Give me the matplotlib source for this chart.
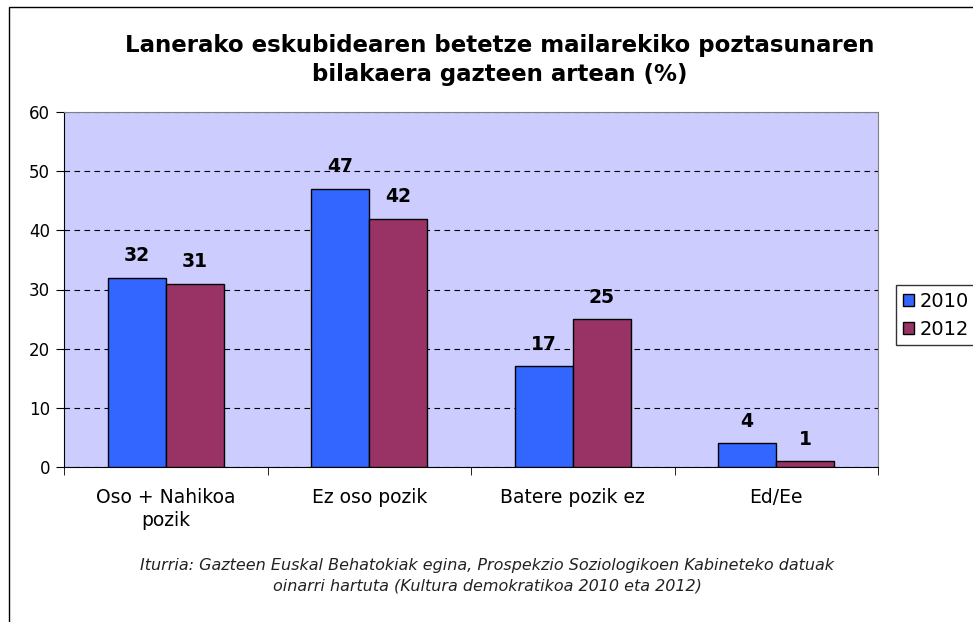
import matplotlib.pyplot as plt
import numpy as np

categories = ["Oso + Nahikoa\npozik", "Ez oso pozik", "Batere pozik ez", "Ed/Ee"]
years = ["2010", "2012"]
values_2010 = [32, 47, 17, 4]
values_2012 = [31, 42, 25, 1]
colors = ["#3366FF", "#993366"]

title = "Lanerako eskubidearen betetze mailarekiko poztasunaren\nbilakaera gazteen artean (%)"
source = ("Iturria: Gazteen Euskal Behatokiak egina, Prospekzio Soziologikoen Kabineteko datuak\n"
          "oinarri hartuta (Kultura demokratikoa 2010 eta 2012)")

fig = plt.figure(figsize=(9.73, 6.22), dpi=100)
W, H = 973, 622
# plot area in pixels: x 64..878, y 112..467
ax = fig.add_axes([64 / W, 1 - 467 / H, (878 - 64) / W, (467 - 112) / H])
ax.set_facecolor("#CCCCFF")

x = np.arange(len(categories))
w = 1 / 3.5
b1 = ax.bar(x - w / 2, values_2010, w, color=colors[0], edgecolor="black", linewidth=1, label=years[0], zorder=3)
b2 = ax.bar(x + w / 2, values_2012, w, color=colors[1], edgecolor="black", linewidth=1, label=years[1], zorder=3)

for bars in (b1, b2):
    for r in bars:
        ax.annotate(f"{r.get_height():g}", (r.get_x() + r.get_width() / 2, r.get_height()),
                    xytext=(0, 9), textcoords="offset points", ha="center", va="bottom",
                    fontsize=13.5, fontweight="bold")

ax.set_xlim(-0.5, len(categories) - 0.5)
ax.set_ylim(0, 60)
ax.set_yticks(range(0, 61, 10))
ax.yaxis.grid(True, linestyle=(0, (5, 4)), color="black", linewidth=0.8, zorder=1)
ax.set_xticks(x)
ax.set_xticklabels(categories, fontsize=13.5, linespacing=1.3)
ax.set_xticks(np.arange(len(categories) + 1) - 0.5, minor=True)
ax.tick_params(axis="x", which="major", length=0, pad=15)
ax.tick_params(axis="x", which="minor", length=6, direction="out", color="black")
ax.tick_params(axis="y", length=6, direction="out", labelsize=12, pad=4)

for s in ("top", "right"):
    ax.spines[s].set_color("#808080")
for s in ("left", "bottom"):
    ax.spines[s].set_color("black")

fig.text(500 / W, 1 - 60 / H, title, ha="center", va="center", fontsize=16.5, fontweight="bold",
         linespacing=1.3)
fig.text(487 / W, 1 - 576 / H, source, ha="center", va="center", fontsize=11.5, style="italic",
         color="#222222", linespacing=1.45)

leg = ax.legend(loc="upper left", bbox_to_anchor=(896 / W, 1 - 285 / H), bbox_transform=fig.transFigure,
                frameon=True, fancybox=False, edgecolor="black", fontsize=14,
                handlelength=0.6, handleheight=0.6, handletextpad=0.25, borderpad=0.35,
                labelspacing=0.45, borderaxespad=0)
leg.get_frame().set_linewidth(1)

# outer chart border
fig.add_artist(plt.Rectangle((9 / W, -0.01), 1.1, 1 - 7 / H + 0.01, transform=fig.transFigure,
                             fill=False, edgecolor="black", linewidth=1))

fig.savefig("out.png", dpi=100)
